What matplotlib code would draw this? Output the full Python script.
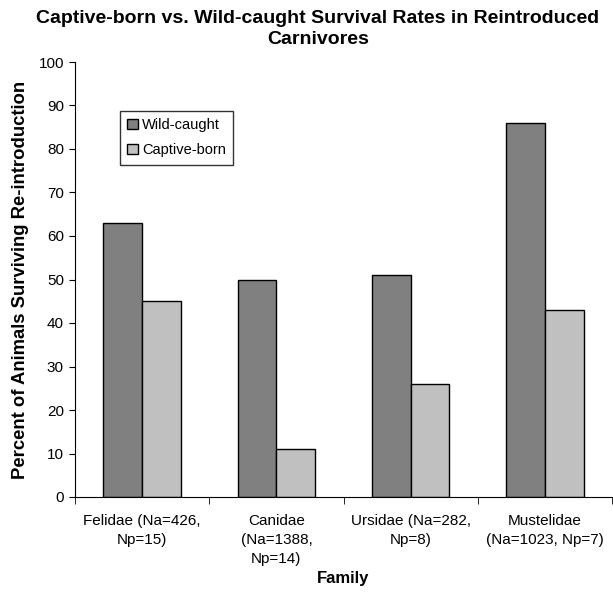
import matplotlib.pyplot as plt
import numpy as np

plt.rcParams['font.family'] = ['Liberation Sans', 'DejaVu Sans']

families = ["Felidae (Na=426,\nNp=15)", "Canidae\n(Na=1388,\nNp=14)",
            "Ursidae (Na=282,\nNp=8)", "Mustelidae\n(Na=1023, Np=7)"]
wild_caught = [63, 50, 51, 86]
captive_born = [45, 11, 26, 43]

fig = plt.figure(figsize=(6.13, 5.94), dpi=100)
ax = fig.add_axes([75 / 613, 97 / 594, 537 / 613, 435 / 594])

x = np.arange(len(families))
w = 0.289
ax.bar(x - w / 2, wild_caught, w, color='#808080', edgecolor='black', linewidth=1.0, label='Wild-caught')
ax.bar(x + w / 2, captive_born, w, color='#C0C0C0', edgecolor='black', linewidth=1.0, label='Captive-born')

ax.set_xlim(-0.5, len(families) - 0.5)
ax.set_ylim(0, 100)
ax.set_yticks(np.arange(0, 101, 10))
ax.tick_params(axis='y', direction='out', length=4, labelsize=11, pad=4)

# category labels centered, tick marks on boundaries
ax.set_xticks(x)
ax.set_xticklabels(families, fontsize=11, linespacing=1.45)
ax.tick_params(axis='x', length=0, pad=12)
ax.set_xticks(np.arange(-0.5, len(families)), minor=True)
ax.tick_params(axis='x', which='minor', direction='out', length=5)

for side in ['top', 'right']:
    ax.spines[side].set_visible(False)

ax.set_xlabel("Family", fontsize=12, fontweight='bold', labelpad=4)
ax.set_ylabel("Percent of Animals Surviving Re-introduction", fontsize=13.3, fontweight='bold', labelpad=7)

fig.text(318 / 613, 1 - 29 / 594, "Captive-born vs. Wild-caught Survival Rates in Reintroduced\nCarnivores",
         ha='center', va='center', fontsize=14, fontweight='bold', linespacing=1.35)

leg = ax.legend(loc='upper left', bbox_to_anchor=(45 / 537, 1 - 49 / 435), frameon=True, fancybox=False,
                fontsize=10.5, handlelength=0.7, handleheight=0.7, handletextpad=0.3,
                borderpad=0.5, labelspacing=0.75, borderaxespad=0)
leg.get_frame().set_edgecolor('black')
leg.get_frame().set_linewidth(1.0)

fig.savefig("out.png", dpi=100)
